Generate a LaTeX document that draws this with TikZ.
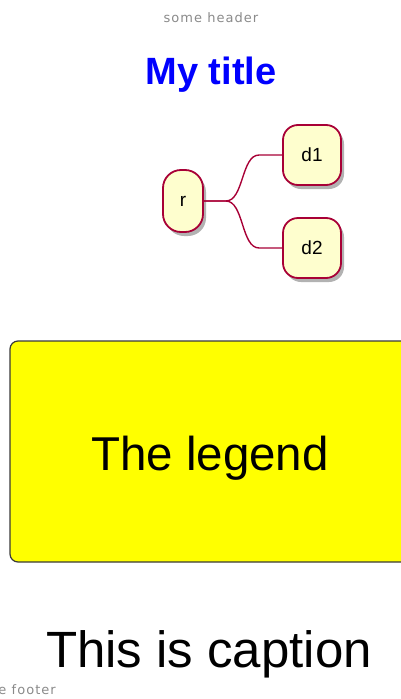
\documentclass[tikz,border=0pt]{standalone}
\usepackage{fontspec}
\setmainfont{Liberation Sans}
\newfontfamily\hdrfont[LetterSpace=8]{DejaVu Sans}
\usetikzlibrary{shadows}
\definecolor{nodefill}{HTML}{FEFECE}
\definecolor{nodeline}{HTML}{A80036}
\definecolor{hdrgray}{HTML}{8A8A8A}
\definecolor{legline}{HTML}{3A3A3A}
\definecolor{legfill}{HTML}{FFFF00}
\definecolor{titleblue}{HTML}{0000FF}
\tikzset{
  mmnode/.style={draw=nodeline, fill=nodefill, line width=1.8pt, rounded corners=15pt,
    font=\fontsize{19}{22}\selectfont, inner sep=0pt,
    drop shadow={shadow xshift=3pt, shadow yshift=-4pt, opacity=0.3, fill=black}},
  conn/.style={draw=nodeline, line width=1.4pt},
  hdr/.style={font=\hdrfont\fontsize{13}{15}\selectfont, text=hdrgray, inner sep=0pt},
}
\begin{document}
\begin{tikzpicture}[x=1pt,y=-1pt]
\useasboundingbox (0,0) rectangle (401,699);
\node[hdr, anchor=base] (header) at (211,22) {some header};
\node[anchor=base, inner sep=0pt, text=titleblue, font=\bfseries\fontsize{38}{42}\selectfont] (title) at (211,84) {My title};

\node[mmnode, minimum width=40pt, minimum height=62pt, rounded corners=18pt] (r) at (183,201) {r};
\node[mmnode, minimum width=58pt, minimum height=60pt] (d1) at (312,155) {d1};
\node[mmnode, minimum width=58pt, minimum height=60pt] (d2) at (312,248) {d2};

\draw[conn] (r.east) -- ++(22,0) .. controls +(18,0) and +(-18,0) .. ([xshift=-23pt]d1.west) -- (d1.west);
\draw[conn] (r.east) -- ++(22,0) .. controls +(18,0) and +(-18,0) .. ([xshift=-23pt]d2.west) -- (d2.west);

\draw[draw=legline, fill=legfill, line width=1.2pt, rounded corners=8pt] (10,341) rectangle (440,562);
\node[anchor=base, inner sep=0pt, font=\fontsize{47.5}{52}\selectfont] (legend) at (210,470) {The legend};

\node[anchor=base, inner sep=0pt, font=\fontsize{51}{56}\selectfont] (caption) at (209,667) {This is caption};
\node[hdr, anchor=base east] (footer) at (56,694) {some footer};
\end{tikzpicture}
\end{document}
